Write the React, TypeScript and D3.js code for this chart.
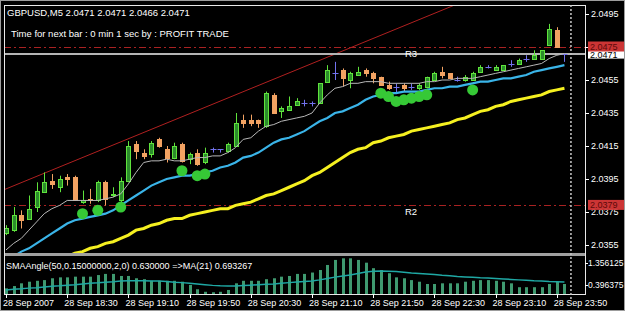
import React from 'react';
import * as d3 from 'd3';

const symbolTitle = 'GBPUSD,M5  2.0471 2.0471 2.0466 2.0471';
const timerText = 'Time for next bar : 0 min 1 sec by : PROFIT TRADE';
const subTitle = 'SMAAngle(50,0.15000000,2,0) 0.630000  =>MA(21) 0.693267';

const opens = [2.0362, 2.0364, 2.0373, 2.0371, 2.0378, 2.0387, 2.0394, 2.0390, 2.0396, 2.0396,
  2.0381, 2.0383, 2.0382, 2.0393, 2.0385, 2.0382, 2.0394, 2.0416, 2.0411, 2.0410,
  2.0419, 2.0413, 2.0408, 2.0416, 2.0407, 2.0411, 2.0405, 2.0413, 2.0413, 2.0412,
  2.0415, 2.0431, 2.0431, 2.0431, 2.0427, 2.0446, 2.0436, 2.0437, 2.0440, 2.0441,
  2.0441, 2.0441, 2.0454, 2.0459, 2.0461, 2.0455, 2.0458, 2.0461, 2.0459, 2.0457,
  2.0452, 2.0451, 2.0452, 2.0451, 2.0450, 2.0451, 2.0455, 2.0460, 2.0459, 2.0455,
  2.0455, 2.0455, 2.0460, 2.0463, 2.0461, 2.0461, 2.0465, 2.0465, 2.0468, 2.0468,
  2.0468, 2.0476, 2.0485, 2.0471];
const highs = [2.0367, 2.0378, 2.0376, 2.0385, 2.0393, 2.0399, 2.0398, 2.0397, 2.0398, 2.0397,
  2.0388, 2.0389, 2.0394, 2.0394, 2.0390, 2.0396, 2.0418, 2.0418, 2.0413, 2.0418,
  2.0420, 2.0415, 2.0417, 2.0417, 2.0411, 2.0413, 2.0414, 2.0414, 2.0413, 2.0417,
  2.0435, 2.0434, 2.0434, 2.0431, 2.0448, 2.0447, 2.0439, 2.0445, 2.0444, 2.0443,
  2.0442, 2.0453, 2.0464, 2.0466, 2.0462, 2.0460, 2.0463, 2.0462, 2.0460, 2.0457,
  2.0454, 2.0453, 2.0453, 2.0453, 2.0453, 2.0457, 2.0460, 2.0463, 2.0459, 2.0457,
  2.0458, 2.0460, 2.0464, 2.0464, 2.0464, 2.0464, 2.0467, 2.0468, 2.0470, 2.0473,
  2.0473, 2.0489, 2.0487, 2.0471];
const lows = [2.0361, 2.0363, 2.0365, 2.0371, 2.0375, 2.0387, 2.0389, 2.0387, 2.0391, 2.0382,
  2.0380, 2.0380, 2.0381, 2.0379, 2.0384, 2.0381, 2.0393, 2.0407, 2.0407, 2.0408,
  2.0414, 2.0405, 2.0407, 2.0405, 2.0404, 2.0403, 2.0404, 2.0411, 2.0411, 2.0411,
  2.0415, 2.0426, 2.0427, 2.0426, 2.0426, 2.0435, 2.0432, 2.0437, 2.0440, 2.0439,
  2.0439, 2.0441, 2.0454, 2.0455, 2.0451, 2.0450, 2.0458, 2.0457, 2.0453, 2.0452,
  2.0449, 2.0447, 2.0448, 2.0449, 2.0449, 2.0450, 2.0455, 2.0456, 2.0456, 2.0454,
  2.0454, 2.0455, 2.0460, 2.0462, 2.0461, 2.0461, 2.0463, 2.0465, 2.0466, 2.0468,
  2.0468, 2.0476, 2.0475, 2.0466];
const closes = [2.0365, 2.0373, 2.0370, 2.0377, 2.0388, 2.0393, 2.0392, 2.0395, 2.0395, 2.0382,
  2.0382, 2.0382, 2.0393, 2.0383, 2.0386, 2.0394, 2.0415, 2.0412, 2.0409, 2.0417,
  2.0415, 2.0408, 2.0415, 2.0406, 2.0410, 2.0404, 2.0411, 2.0413, 2.0413, 2.0416,
  2.0429, 2.0429, 2.0429, 2.0429, 2.0447, 2.0435, 2.0438, 2.0439, 2.0442, 2.0441,
  2.0441, 2.0453, 2.0461, 2.0459, 2.0456, 2.0459, 2.0460, 2.0459, 2.0456, 2.0452,
  2.0450, 2.0451, 2.0450, 2.0451, 2.0452, 2.0457, 2.0459, 2.0458, 2.0456, 2.0455,
  2.0457, 2.0459, 2.0463, 2.0463, 2.0463, 2.0464, 2.0465, 2.0467, 2.0468, 2.0470,
  2.0473, 2.0486, 2.0475, 2.0471];

const maFast = [2.0352, 2.0356, 2.0359, 2.0364, 2.0369, 2.0374, 2.0377, 2.0379, 2.0382, 2.0382,
  2.0382, 2.0382, 2.0382, 2.0383, 2.0384, 2.0386, 2.0392, 2.0399, 2.0405, 2.0406,
  2.0406, 2.0407, 2.0406, 2.0406, 2.0407, 2.0408, 2.0408, 2.0409, 2.0409, 2.0411,
  2.0414, 2.0419, 2.0420, 2.0424, 2.0427, 2.0428, 2.0430, 2.0431, 2.0432, 2.0433,
  2.0435, 2.0441, 2.0446, 2.0450, 2.0451, 2.0453, 2.0453, 2.0454, 2.0454, 2.0454,
  2.0453, 2.0453, 2.0453, 2.0453, 2.0453, 2.0454, 2.0454, 2.0455, 2.0455, 2.0456,
  2.0456, 2.0456, 2.0457, 2.0458, 2.0459, 2.0460, 2.0461, 2.0462, 2.0463, 2.0464,
  2.0465, 2.0468, 2.0470, 2.0471];
const maMid = [2.0345, 2.0348, 2.0351, 2.0353, 2.0356, 2.0359, 2.0362, 2.0365, 2.0368, 2.0370,
  2.0371, 2.0372, 2.0373, 2.0374, 2.0376, 2.0379, 2.0382, 2.0385, 2.0388, 2.0391,
  2.0393, 2.0395, 2.0396, 2.0397, 2.0397, 2.0398, 2.0399, 2.0400, 2.0402, 2.0403,
  2.0405, 2.0408, 2.0409, 2.0411, 2.0414, 2.0417, 2.0419, 2.0420, 2.0422, 2.0424,
  2.0427, 2.0430, 2.0432, 2.0435, 2.0436, 2.0438, 2.0440, 2.0443, 2.0445, 2.0446,
  2.0447, 2.0447, 2.0448, 2.0448, 2.0448, 2.0449, 2.0450, 2.0450, 2.0451, 2.0451,
  2.0452, 2.0453, 2.0454, 2.0454, 2.0455, 2.0456, 2.0456, 2.0457, 2.0458, 2.0460,
  2.0461, 2.0462, 2.0463, 2.0464];
const maSlow = [2.0335, 2.0336, 2.0338, 2.0339, 2.0341, 2.0342, 2.0344, 2.0346, 2.0348, 2.0350,
  2.0351, 2.0353, 2.0354, 2.0356, 2.0357, 2.0359, 2.0361, 2.0364, 2.0365, 2.0367,
  2.0368, 2.0370, 2.0371, 2.0371, 2.0373, 2.0374, 2.0375, 2.0376, 2.0377, 2.0377,
  2.0379, 2.0380, 2.0381, 2.0383, 2.0385, 2.0386, 2.0388, 2.0390, 2.0392, 2.0394,
  2.0397, 2.0399, 2.0402, 2.0405, 2.0408, 2.0411, 2.0413, 2.0414, 2.0417, 2.0418,
  2.0420, 2.0421, 2.0422, 2.0424, 2.0425, 2.0426, 2.0427, 2.0428, 2.0429, 2.0431,
  2.0432, 2.0434, 2.0436, 2.0437, 2.0439, 2.0440, 2.0442, 2.0443, 2.0444, 2.0445,
  2.0446, 2.0448, 2.0449, 2.0450];

const signalBars = [10, 12, 15, 23, 25, 26, 49, 50, 51, 52, 53, 54, 55, 61];
const signalPrices = [2.0374, 2.0376, 2.0378, 2.0400, 2.0397, 2.0398, 2.0447, 2.0445, 2.0442, 2.0443, 2.0444, 2.0445, 2.0446, 2.0449];

const trendBars = [0, 50];
const trendPrices = [2.0389, 2.0484];

const levelNames = ['R3', 'R2'];
const levelPrices = [2.0475, 2.0379];
const bidPrice = 2.0471;
const shiftMarkerBar = 73.85;

const priceTicks = [2.0495, 2.0475, 2.0455, 2.0435, 2.0415, 2.0395, 2.0375, 2.0355];

const timeLabelBars = [0, 8, 16, 24, 32, 40, 48, 56, 64, 72];
const timeLabels = ['28 Sep 2007', '28 Sep 18:30', '28 Sep 19:10', '28 Sep 19:50', '28 Sep 20:30',
  '28 Sep 21:10', '28 Sep 21:50', '28 Sep 22:30', '28 Sep 23:10', '28 Sep 23:50'];

const histValues = [0.25, 0.35, 0.47, 0.54, 0.58, 0.61, 0.69, 0.73, 0.73, 0.76,
  0.76, 0.76, 0.83, 0.88, 0.88, 0.79, 0.79, 0.69, 0.65, 0.58,
  0.58, 0.58, 0.58, 0.54, 0.40, 0.21, 0.10, 0.08, 0.10, 0.18,
  0.47, 0.58, 0.58, 0.58, 0.65, 0.69, 0.76, 0.79, 0.88, 0.88,
  0.94, 1.05, 1.27, 1.49, 1.56, 1.56, 1.49, 1.37, 1.13, 1.05,
  0.91, 0.73, 0.69, 0.61, 0.54, 0.44, 0.44, 0.47, 0.47, 0.47,
  0.54, 0.58, 0.61, 0.61, 0.58, 0.54, 0.47, 0.30, 0.30, 0.30,
  0.30, 0.44, 0.54, 0.44];
const histMA = [0.18, 0.21, 0.23, 0.26, 0.28, 0.31, 0.34, 0.36, 0.39, 0.41,
  0.44, 0.47, 0.49, 0.52, 0.54, 0.57, 0.58, 0.58, 0.58, 0.57,
  0.57, 0.55, 0.52, 0.50, 0.47, 0.44, 0.41, 0.38, 0.36, 0.35,
  0.35, 0.37, 0.39, 0.41, 0.43, 0.44, 0.47, 0.50, 0.53, 0.55,
  0.57, 0.62, 0.68, 0.74, 0.79, 0.83, 0.90, 0.96, 1.00, 1.01,
  1.00, 0.98, 0.95, 0.92, 0.90, 0.88, 0.85, 0.82, 0.80, 0.77,
  0.75, 0.73, 0.71, 0.70, 0.68, 0.66, 0.64, 0.62, 0.60, 0.58,
  0.57, 0.55, 0.54, 0.53];
const subTicks = [1.356125, 0.396375];

const W = 625;
const H = 311;
const L = 4;
const R = 585;
const TOP = 5;
const MAIN_BOTTOM = 253;
const SUB_TOP = 256;
const SUB_BOTTOM = 294;
const FONT = "'Liberation Sans', Arial, sans-serif";

export default function App() {
  const x = d3.scaleLinear().domain([0, 73]).range([6, 564.45]);
  const y = d3.scaleLinear().domain([2.0355, 2.0495]).range([245, 14]);
  const ys = d3.scaleLinear().domain([0.396375, 1.356125]).range([285, 263]);
  const px = (i: number) => Math.round(x(i)) + 0.5;

  const lineGen = (vals: number[]) =>
    d3.line<number>().x((_, i) => x(i)).y((v) => y(v))(vals) || '';
  const subLine = d3.line<number>().x((_, i) => x(i)).y((v) => ys(v))(histMA) || '';

  const trendSlope = (trendPrices[1] - trendPrices[0]) / (trendBars[1] - trendBars[0]);
  const tEnd = 80;
  const tStart = -1;

  const bull = '#5fe33c';
  const bullFill = '#2c8c2c';
  const bear = '#f2a262';
  const doji = '#7272ee';

  // tick labels fully hidden by a level price box are not drawn (as in the terminal)
  const hiddenTicks = priceTicks.filter((p) => levelPrices.some((lp) => Math.abs(lp - p) < 1e-9));

  return (
    <>
      <style>{'body{margin:0;background:#000}'}</style>
      <svg width={W} height={H} style={{ display: 'block' }} fontFamily={FONT}>
        <defs>
          <clipPath id="mainClip">
            <rect x={L + 1} y={TOP + 1} width={R - L - 1} height={MAIN_BOTTOM - TOP - 1} />
          </clipPath>
          <clipPath id="subClip">
            <rect x={L + 1} y={SUB_TOP} width={R - L - 1} height={SUB_BOTTOM - SUB_TOP} />
          </clipPath>
        </defs>
        <rect x={0} y={0} width={W} height={H} fill="#000" />

        <g clipPath="url(#mainClip)">
          <line x1={x(tStart)} y1={y(trendPrices[0] + trendSlope * (tStart - trendBars[0]))}
            x2={x(tEnd)} y2={y(trendPrices[0] + trendSlope * (tEnd - trendBars[0]))}
            stroke="#b02020" strokeWidth={1} />
          {levelPrices.map((p, k) => (
            <line key={'lv' + k} x1={L} x2={R} y1={Math.round(y(p)) + 0.5} y2={Math.round(y(p)) + 0.5}
              stroke="#a82222" strokeWidth={1} strokeDasharray="7 3 2 3" />
          ))}
          <line x1={0} x2={R} y1={Math.round(y(bidPrice))} y2={Math.round(y(bidPrice))} stroke="#b4b4b4" strokeWidth={2} />
          {levelNames.map((n, k) => (
            <text key={'ln' + k} x={411} y={y(levelPrices[k]) + 6.5} fill="#fff" fontSize={9.5}
              textAnchor="middle" dominantBaseline="central">{n}</text>
          ))}

          {opens.map((o, i) => {
            const c = closes[i];
            const hx = px(i);
            const isBull = c > o;
            const isBear = c < o;
            const col = isBull ? bull : isBear ? bear : doji;
            if (!isBull && !isBear) {
              return (
                <g key={'c' + i}>
                  <line x1={hx} x2={hx} y1={y(highs[i])} y2={y(lows[i])} stroke={col} strokeWidth={1} />
                  <line x1={hx - 3} x2={hx + 3} y1={Math.round(y(o)) + 0.5} y2={Math.round(y(o)) + 0.5} stroke={col} strokeWidth={1} />
                </g>
              );
            }
            const top = Math.round(y(Math.max(o, c))) + 0.5;
            const bot = Math.round(y(Math.min(o, c))) + 0.5;
            return (
              <g key={'c' + i}>
                <line x1={hx} x2={hx} y1={y(highs[i])} y2={y(lows[i])} stroke={col} strokeWidth={1} />
                <rect x={hx - 2} y={top} width={4} height={Math.max(bot - top, 1)}
                  fill={isBull ? bullFill : col} stroke={col} strokeWidth={1} />
              </g>
            );
          })}

          <path d={lineGen(maSlow)} fill="none" stroke="#f5f020" strokeWidth={3} />
          <path d={lineGen(maMid)} fill="none" stroke="#3ab4e8" strokeWidth={2.2} />
          <path d={lineGen(maFast)} fill="none" stroke="#b8b8b8" strokeWidth={1} />

          {signalBars.map((b, k) => (
            <circle key={'s' + k} cx={x(b)} cy={y(signalPrices[k])} r={5.5} fill="#36c936" />
          ))}
        </g>

        <g clipPath="url(#subClip)">
          {histValues.map((v, i) => (
            <rect key={'h' + i} x={Math.round(x(i)) - 1} y={ys(v)} width={3} height={Math.max(ys(0) - ys(v), 0)} fill="#3f9a70" />
          ))}
          <path d={subLine} fill="none" stroke="#1fa8a4" strokeWidth={1.5} />
          <text x={6} y={266} fill="#fff" fontSize={9} dominantBaseline="central">{subTitle}</text>
        </g>

        <rect x={L} y={MAIN_BOTTOM} width={R - L + 1} height={3} fill="#a0a0a0" />
        <rect x={L + 0.5} y={TOP + 0.5} width={R - L} height={SUB_BOTTOM - TOP} fill="none" stroke="#e8e8e8" strokeWidth={1} />
        <line x1={x(shiftMarkerBar)} x2={x(shiftMarkerBar)} y1={TOP} y2={H - 10} stroke="#c8c8c8" strokeWidth={1.5} strokeDasharray="2 2" />

        <text x={7} y={12} fill="#fff" fontSize={9.5} dominantBaseline="central">{symbolTitle}</text>
        <text x={11} y={33} fill="#fff" fontSize={9.5} dominantBaseline="central">{timerText}</text>

        {priceTicks.map((p, k) => (
          <g key={'pt' + k}>
            <line x1={R} x2={R + 4} y1={Math.round(y(p)) + 0.5} y2={Math.round(y(p)) + 0.5} stroke="#fff" />
            {!hiddenTicks.includes(p) && (
              <text x={591} y={y(p)} fill="#fff" fontSize={9} dominantBaseline="central">{p.toFixed(4)}</text>
            )}
          </g>
        ))}
        <rect x={588} y={y(bidPrice) - 5} width={37} height={10} fill="#fff" />
        <text x={590} y={y(bidPrice) + 1} fill="#000" fontSize={9} dominantBaseline="central">{bidPrice.toFixed(4)}</text>
        {levelPrices.map((p, k) => (
          <g key={'lb' + k}>
            <rect x={588} y={y(p) - 5.5} width={37} height={10} fill="#cc3535" />
            <text x={590} y={y(p)} fill="#5c0a0a" fontSize={9} dominantBaseline="central">{p.toFixed(4)}</text>
          </g>
        ))}

        {subTicks.map((v, k) => (
          <g key={'st' + k}>
            <line x1={R} x2={R + 3} y1={Math.round(ys(v)) + 0.5} y2={Math.round(ys(v)) + 0.5} stroke="#fff" />
            <text x={588} y={ys(v)} fill="#fff" fontSize={8.5} dominantBaseline="central">{v.toFixed(6)}</text>
          </g>
        ))}

        {timeLabelBars.map((b, k) => (
          <g key={'tl' + k}>
            <line x1={px(b)} x2={px(b)} y1={SUB_BOTTOM} y2={SUB_BOTTOM + 4} stroke="#fff" />
            <text x={x(b) - 3} y={303} fill="#fff" fontSize={9} dominantBaseline="central">{timeLabels[k]}</text>
          </g>
        ))}

        <rect x={0.5} y={0.5} width={W - 1} height={H - 1} fill="none" stroke="#9c9c9c" strokeWidth={1} />
      </svg>
    </>
  );
}
